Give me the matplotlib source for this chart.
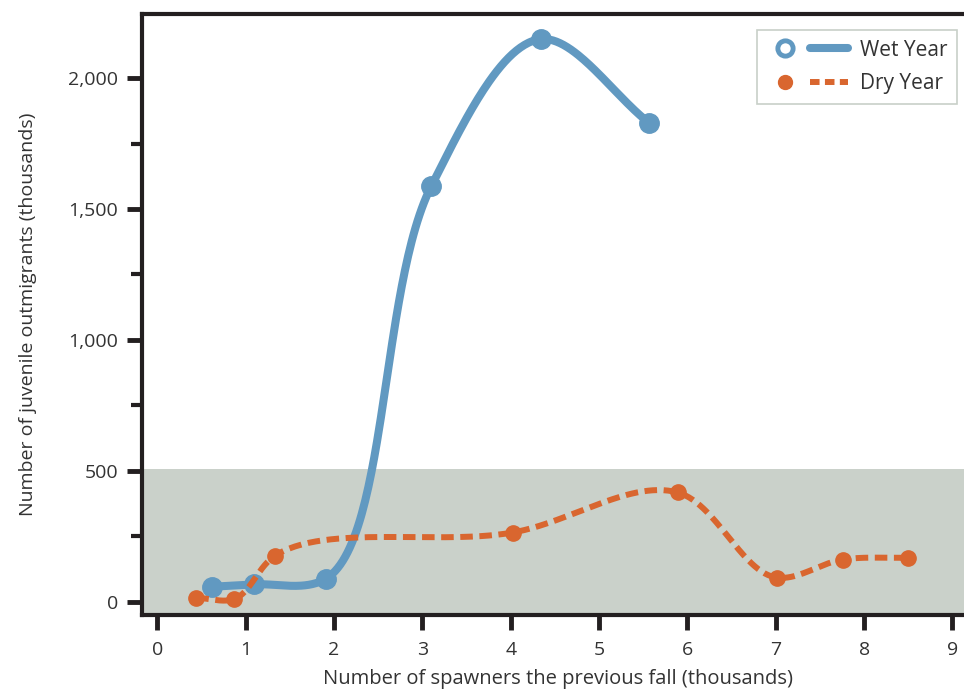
import matplotlib
matplotlib.use('Agg')
import matplotlib.pyplot as plt
from matplotlib.lines import Line2D
from matplotlib.legend_handler import HandlerTuple
import numpy as np

# dados (milhares)
wet_x = [0.62, 1.09, 1.91, 3.10, 4.34, 5.57]
wet_y = [57, 66, 88, 1587, 2149, 1828]

dry_x = [0.44, 0.87, 1.33, 4.02, 5.89, 7.01, 7.76, 8.50]
dry_y = [15, 10, 175, 264, 417, 92, 161, 168]

shade_top = 508
x_ticks = list(range(0, 10))
y_major = [0, 500, 1000, 1500, 2000]
y_minor = [250, 750, 1250, 1750]

BLUE = '#6199c1'
ORANGE = '#d9662f'
GRAY = '#cad1ca'
DARK = '#231f20'
TXT = '#333333'

plt.rcParams['font.family'] = ['Open Sans', 'DejaVu Sans']


def suavizar(ax, xs, ys, alpha=0.5, n=60):
    # catmull-rom (parametrizacao alpha) feita em coordenadas de tela
    pts = ax.transData.transform(np.column_stack([xs, ys]))
    p = np.vstack([2 * pts[0] - pts[1], pts, 2 * pts[-1] - pts[-2]])
    saida = []
    for i in range(1, len(p) - 2):
        p0, p1, p2, p3 = p[i - 1], p[i], p[i + 1], p[i + 2]
        t01 = np.linalg.norm(p1 - p0) ** alpha
        t12 = np.linalg.norm(p2 - p1) ** alpha
        t23 = np.linalg.norm(p3 - p2) ** alpha
        m1 = (p1 - p0) / t01 - (p2 - p0) / (t01 + t12) + (p2 - p1) / t12
        m2 = (p2 - p1) / t12 - (p3 - p1) / (t12 + t23) + (p3 - p2) / t23
        b1 = p1 + m1 * t12 / 3
        b2 = p2 - m2 * t12 / 3
        t = np.linspace(0, 1, n)[:, None]
        seg = (1 - t) ** 3 * p1 + 3 * t * (1 - t) ** 2 * b1 + 3 * t ** 2 * (1 - t) * b2 + t ** 3 * p2
        saida.append(seg)
    curva = ax.transData.inverted().transform(np.vstack(saida))
    return curva[:, 0], curva[:, 1]


fig = plt.figure(figsize=(9.64, 6.91), dpi=100)
ax = fig.add_axes([0.1468, 0.110, 0.8532 + 0.01, 0.8697])
ax.set_xlim(-0.18, 9.24)
ax.set_ylim(-51, 2245)

ax.axhspan(-60, shade_top, color=GRAY, lw=0, zorder=0)

wx, wy = suavizar(ax, wet_x, wet_y, alpha=0.62)
dx, dy = suavizar(ax, dry_x, dry_y, alpha=0.75)

ax.plot(wx, wy, color=BLUE, lw=5.8, solid_capstyle='round', zorder=3)
ax.plot(wet_x, wet_y, 'o', color=BLUE, ms=14, zorder=3)
ax.plot(dx, dy, color=ORANGE, lw=4.3, linestyle=(0, (2.1, 1.1)), zorder=4)
ax.plot(dry_x, dry_y, 'o', color=ORANGE, ms=11, zorder=4)

# eixos
ax.spines['right'].set_visible(False)
for lado in ['left', 'bottom', 'top']:
    ax.spines[lado].set_linewidth(3)
    ax.spines[lado].set_color(DARK)

ax.set_xticks(x_ticks)
ax.set_yticks(y_major)
ax.set_yticks(y_minor, minor=True)
ax.set_yticklabels([f'{v:,}' for v in y_major])
ax.tick_params(axis='both', which='major', length=11, width=3.5, color=DARK,
               labelsize=14, labelcolor=TXT, pad=6)
ax.tick_params(axis='x', which='major', pad=8)
ax.tick_params(axis='y', which='minor', length=8, width=3, color=DARK)

ax.set_xlabel('Number of spawners the previous fall (thousands)', fontsize=14.5, color=TXT, labelpad=7)
ax.set_ylabel('Number of juvenile outmigrants (thousands)', fontsize=14, color=TXT, labelpad=22)

# legenda
wet_m = Line2D([], [], marker='o', ls='none', ms=11, mfc='white', mec=BLUE, mew=3.5)
wet_l = Line2D([], [], color=BLUE, lw=5.8, solid_capstyle='round')
dry_m = Line2D([], [], marker='o', ls='none', ms=10, color=ORANGE)
dry_l = Line2D([], [], color=ORANGE, lw=4.3, linestyle=(0, (1.6, 0.9)))
leg = ax.legend([(wet_m, wet_l), (dry_m, dry_l)], ['Wet Year', 'Dry Year'],
                handler_map={tuple: HandlerTuple(ndivide=None, pad=0.3)},
                loc='upper right', bbox_to_anchor=(0.98, 0.973), borderaxespad=0,
                fontsize=15, handlelength=3.9, handletextpad=0.6, fancybox=False,
                framealpha=1, edgecolor='#c8d0c8', labelspacing=0.6, borderpad=0.45)
leg.get_frame().set_linewidth(1.2)
for t in leg.get_texts():
    t.set_color(TXT)

fig.savefig('out.png', dpi=100)
